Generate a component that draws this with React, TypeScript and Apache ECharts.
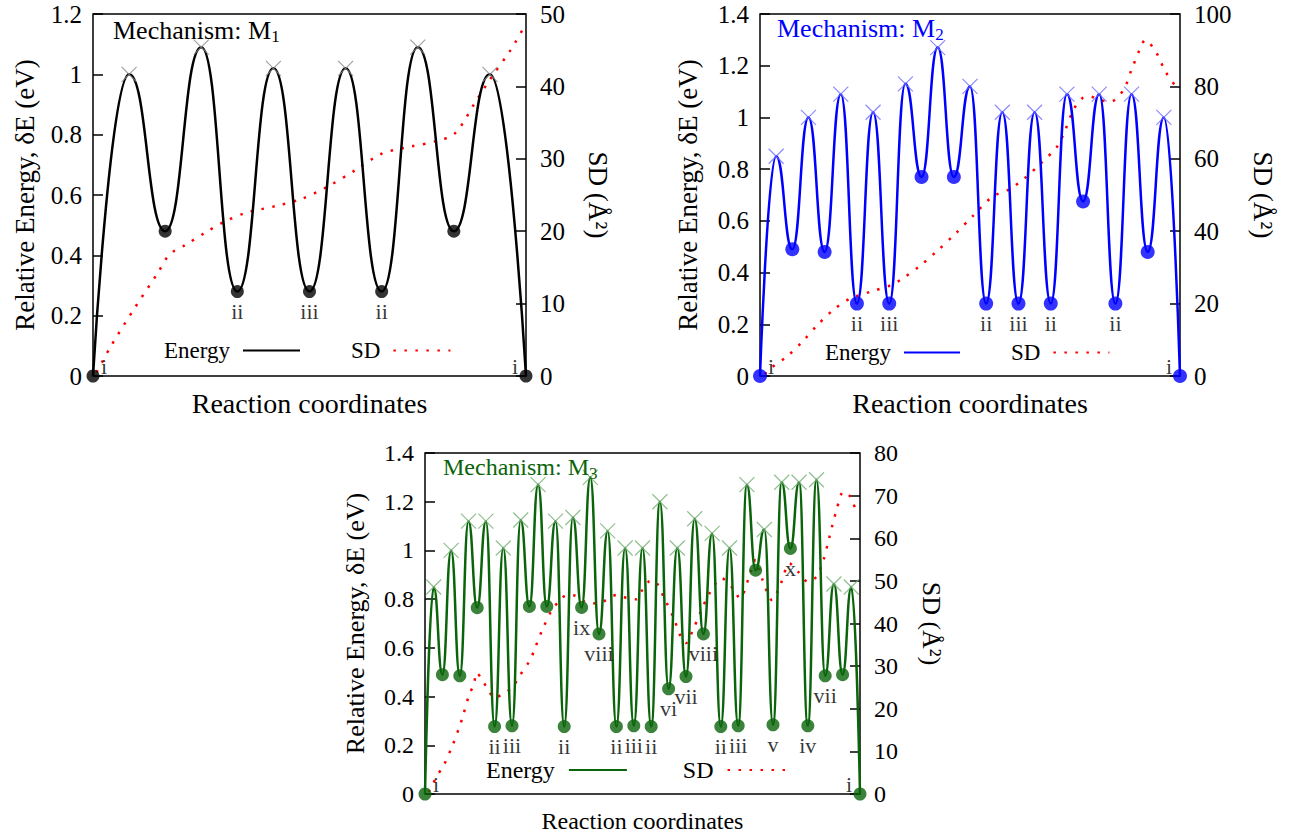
import React, { useEffect, useRef } from 'react';
import * as echarts from 'echarts';

const FONT = 'Liberation Serif, Times New Roman, serif';

// ---------- Data ----------
// Relative energy along the reaction coordinate (stationary points: even index = minimum, odd index = transition state)
const energyM1 = [0, 1.0, 0.48, 1.09, 0.28, 1.02, 0.28, 1.02, 0.28, 1.09, 0.48, 1.0, 0];
const energyM2 = [0, 0.85, 0.49, 1.0, 0.48, 1.09, 0.28, 1.02, 0.28, 1.13, 0.77, 1.27, 0.77, 1.12, 0.28, 1.02, 0.28, 1.02, 0.28, 1.09, 0.675, 1.09, 0.28, 1.09, 0.48, 1.0, 0];
const energyM3 = [0, 0.85, 0.49, 1.0, 0.485, 1.12, 0.765, 1.12, 0.277, 1.01, 0.28, 1.125, 0.77, 1.27, 0.77, 1.12, 0.277, 1.135, 0.766, 1.3, 0.657, 1.08, 0.277, 1.01, 0.28, 1.01, 0.277, 1.2, 0.432, 1.01, 0.482, 1.13, 0.657, 1.07, 0.277, 1.01, 0.28, 1.27, 0.919, 1.086, 0.284, 1.28, 1.008, 1.28, 0.28, 1.29, 0.485, 0.862, 0.49, 0.85, 0];

// SD (Å²) along the reaction coordinate
const sdM1X = [0.1, 0.47, 1.13, 1.79, 2.12, 2.56, 3.11, 3.6, 4.21, 5.09, 5.75, 6.52, 7.29, 8.0, 8.82, 9.48, 10.03, 10.58, 11.02, 11.57, 11.96];
const sdM1Y = [0.5, 3.9, 9.2, 14.2, 16.8, 18.1, 19.8, 21.2, 22.5, 23.5, 24.4, 26.2, 28.5, 30.7, 31.7, 32.4, 33.5, 37.7, 41.1, 45, 48.3];
const sdM2X = [0.3, 0.63, 1.69, 2.57, 3.58, 4.58, 5.59, 6.85, 8.11, 8.74, 9.87, 10.88, 12.14, 13.15, 14.41, 15.4, 16.4, 17.4, 18.4, 18.9, 19.4, 19.95, 20.45, 20.96, 21.7, 22.5, 23.0, 23.5, 23.85, 24.5, 25.1, 25.9];
const sdM2Y = [0.5, 2.0, 5.5, 9.2, 14.2, 18.4, 21.4, 23.3, 25.1, 26.7, 30.3, 34.2, 39.5, 44.1, 49.6, 51.5, 54.7, 58.8, 63.4, 68.0, 73.5, 76.7, 77.2, 76.3, 75.8, 79, 84.6, 90.1, 92.8, 89.6, 84.1, 79];
const sdM3X = [0.4, 0.9, 1.3, 2.1, 3.2, 4.0, 4.4, 5.1, 5.6, 5.95, 6.6, 7.3, 7.96, 9.1, 10.05, 10.7, 12.1, 12.6, 13.5, 14.6, 15.5, 16.3, 17.3, 18.5, 19.8, 22.1, 23.3, 24.3, 24.9, 25.7, 26.3, 27.6, 28.6, 29.4, 30.0, 30.8, 31.7, 32.7, 34.1, 35.4, 36.2, 37.2, 38.0, 38.8, 39.9, 40.9, 41.9, 42.9, 44.0, 45.0, 45.8, 46.4, 47.3, 48.1, 48.9, 49.5];
const sdM3Y = [0.5, 2.2, 4.1, 6.5, 11.6, 16, 18.6, 23.4, 25.6, 28.5, 26.6, 24.4, 22.5, 23.7, 25, 27.2, 31.5, 34, 38.6, 43.2, 45.4, 46.7, 46.5, 45, 44.7, 46.7, 45.9, 45.7, 47.6, 49.8, 50, 45.5, 41.2, 36.9, 35.4, 38.5, 42.8, 47.1, 50.6, 48.2, 45.9, 50.6, 54.9, 50.2, 45.5, 49.4, 54.1, 52.1, 49.8, 51, 54.9, 59.6, 66.6, 70.9, 69.7, 66.6];

// Structure labels: [index on reaction coordinate, label]
const labelsM1: [number, string][] = [[0, 'i'], [4, 'ii'], [6, 'iii'], [8, 'ii'], [12, 'i']];
const labelsM2: [number, string][] = [[0, 'i'], [6, 'ii'], [8, 'iii'], [14, 'ii'], [16, 'iii'], [18, 'ii'], [22, 'ii'], [26, 'i']];
const labelsM3: [number, string][] = [[0, 'i'], [8, 'ii'], [10, 'iii'], [16, 'ii'], [18, 'ix'], [20, 'viii'], [22, 'ii'], [24, 'iii'], [26, 'ii'], [28, 'vi'], [30, 'vii'], [32, 'viii'], [34, 'ii'], [36, 'iii'], [40, 'v'], [42, 'x'], [44, 'iv'], [46, 'vii'], [50, 'i']];

const mechanismIds = ['1', '2', '3'];
const energyMax = [1.2, 1.4, 1.4];
const sdMax = [50, 100, 80];
const sdStep = [10, 20, 10];

// ---------- Layout / style ----------
const layouts = [
  { left: 93, top: 14, width: 433, height: 362, color: '#000000', cross: '#8a8a8a', legendLeft: 164, legendY: 353, legendGap: 50, legendFont: 23, legendPad: 8, legendW: 57, titleX: 113, titleY: 30, titleFont: 26, tickFont: 25, nameFont: 27, xNameFont: 28, xNameGap: 13, leftGap: 55, rightGap: 58, dot: 13 },
  { left: 760, top: 14, width: 420, height: 362, color: '#0000ff', cross: '#6e6eff', legendLeft: 825, legendY: 355, legendGap: 50, legendFont: 23, legendPad: 8, legendW: 56, titleX: 777, titleY: 28, titleFont: 26, tickFont: 25, nameFont: 27, xNameFont: 28, xNameGap: 13, leftGap: 59, rightGap: 69, dot: 14 },
  { left: 425, top: 453, width: 435, height: 341, color: '#0a640a', cross: '#74b074', legendLeft: 486, legendY: 772, legendGap: 55, legendFont: 24, legendPad: 9, legendW: 58, titleX: 443, titleY: 467, titleFont: 24, tickFont: 24, nameFont: 26, xNameFont: 24, xNameGap: 15, leftGap: 57, rightGap: 58, dot: 13 },
];

const CROSS = 'path://M0,0L10,10M10,0L0,10';

function buildOption() {
  const energies = [energyM1, energyM2, energyM3];
  const sdXs = [sdM1X, sdM2X, sdM3X];
  const sdYs = [sdM1Y, sdM2Y, sdM3Y];
  const labelSets = [labelsM1, labelsM2, labelsM3];

  const grid: any[] = [];
  const xAxis: any[] = [];
  const yAxis: any[] = [];
  const series: any[] = [];
  const legend: any[] = [];
  const graphic: any[] = [];

  energies.forEach((energy, k) => {
    const L = layouts[k];
    const last = energy.length - 1;
    grid.push({ left: L.left, top: L.top, width: L.width, height: L.height, show: true, borderColor: '#000', borderWidth: 1.5, backgroundColor: 'transparent' });
    xAxis.push({
      type: 'value', gridIndex: k, min: 0, max: last,
      axisLine: { show: false }, axisTick: { show: false }, axisLabel: { show: false }, splitLine: { show: false },
      name: 'Reaction coordinates', nameLocation: 'middle', nameGap: L.xNameGap,
      nameTextStyle: { fontFamily: FONT, fontSize: L.xNameFont, color: '#000' },
    });
    yAxis.push({
      type: 'value', gridIndex: k, position: 'left', min: 0, max: energyMax[k], interval: 0.2,
      axisLine: { show: false },
      axisTick: { show: true, inside: true, length: 10, lineStyle: { color: '#000', width: 1.5 } },
      axisLabel: { fontFamily: FONT, fontSize: L.tickFont, color: '#000', margin: 11 },
      splitLine: { show: false },
      name: 'Relative Energy, δE (eV)', nameLocation: 'middle', nameGap: L.leftGap,
      nameTextStyle: { fontFamily: FONT, fontSize: L.nameFont, color: '#000' },
    });
    yAxis.push({
      type: 'value', gridIndex: k, position: 'right', min: 0, max: sdMax[k], interval: sdStep[k],
      axisLine: { show: false },
      axisTick: { show: true, inside: true, length: 10, lineStyle: { color: '#000', width: 1.5 } },
      axisLabel: { fontFamily: FONT, fontSize: L.tickFont, color: '#000', margin: 14 },
      splitLine: { show: false },
      name: 'SD (Å²)', nameLocation: 'middle', nameGap: L.rightGap, nameRotate: -90,
      nameTextStyle: { fontFamily: FONT, fontSize: L.nameFont, color: '#000' },
    });

    const eData = energy.map((v, i) => [i, v]);
    series.push({
      type: 'line', name: `Energy ${k}`, xAxisIndex: k, yAxisIndex: 2 * k, data: eData,
      smooth: 0.5, smoothMonotone: 'x', symbol: 'none', showSymbol: false,
      lineStyle: { color: L.color, width: 2.5 }, itemStyle: { color: L.color }, z: 3,
    });
    series.push({
      type: 'line', name: `SD ${k}`, xAxisIndex: k, yAxisIndex: 2 * k + 1,
      data: sdXs[k].map((x, i) => [x, sdYs[k][i]]),
      smooth: 0.3, symbol: 'none', showSymbol: false,
      lineStyle: { color: '#ff0000', width: 2.5, type: [2.5, 8.5], cap: 'butt' }, itemStyle: { color: '#ff0000' }, z: 2,
    });
    series.push({
      type: 'scatter', xAxisIndex: k, yAxisIndex: 2 * k,
      data: eData.filter((_, i) => i % 2 === 0),
      symbol: 'circle', symbolSize: L.dot, itemStyle: { color: L.color }, z: 4,
    });
    series.push({
      type: 'scatter', xAxisIndex: k, yAxisIndex: 2 * k,
      data: eData.filter((_, i) => i % 2 === 1),
      symbol: CROSS, symbolSize: 15, itemStyle: { color: 'transparent', borderColor: L.cross, borderWidth: 1.2 }, z: 4,
    });
    series.push({
      type: 'scatter', xAxisIndex: k, yAxisIndex: 2 * k,
      data: labelSets[k].map(([i, t]) => ({
        name: t, value: [i, energy[i]],
        label: { offset: i === 0 ? [11, -10] : i === last ? [-11, -10] : [0, 20] },
      })),
      symbol: 'circle', symbolSize: 1, itemStyle: { color: 'transparent' },
      label: { show: true, position: 'inside', formatter: (q: any) => q.name, fontFamily: FONT, fontSize: 22, color: '#000' },
      z: 5,
    });

    legend.push({
      data: [`Energy ${k}`, `SD ${k}`], left: L.legendLeft, top: L.legendY - 14, orient: 'horizontal',
      align: 'right', itemWidth: L.legendW, itemHeight: 14, itemGap: L.legendGap, selectedMode: false, padding: 0,
      itemStyle: { opacity: 0 },
      formatter: (n: string) => n.split(' ')[0],
      textStyle: { fontFamily: FONT, fontSize: L.legendFont, color: '#000', padding: [0, L.legendPad, 0, 0] },
    });

    graphic.push({
      type: 'text', x: L.titleX, y: L.titleY, z: 10,
      style: {
        text: `Mechanism: M{s|${mechanismIds[k]}}`, fill: L.color, fontFamily: FONT, fontSize: L.titleFont,
        lineHeight: 30, verticalAlign: 'middle', align: 'left',
        rich: { s: { fontFamily: FONT, fontSize: 17, fill: L.color, verticalAlign: 'bottom', lineHeight: 14 } },
      },
    });
  });

  return { animation: false, backgroundColor: '#ffffff', grid, xAxis, yAxis, series, legend, graphic };
}

export default function App() {
  const ref = useRef<HTMLDivElement>(null);
  useEffect(() => {
    const chart = echarts.init(ref.current!, null, { renderer: 'svg' });
    chart.setOption(buildOption() as any);
    return () => chart.dispose();
  }, []);
  return <div ref={ref} style={{ position: 'absolute', left: 0, top: 0, width: 1290, height: 836, background: '#fff' }} />;
}
